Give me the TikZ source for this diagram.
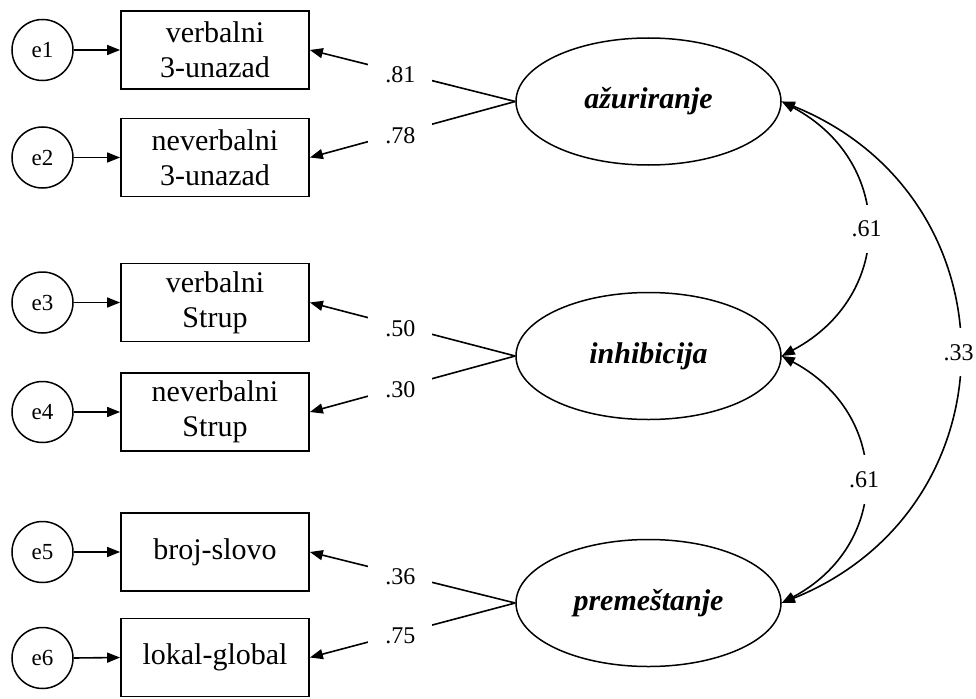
\documentclass[tikz,border=0pt]{standalone}
\usepackage{fontspec}
\setmainfont{Liberation Serif}
\usetikzlibrary{shapes.geometric,arrows.meta}
\begin{document}
\begin{tikzpicture}[x=1pt,y=1pt,
  errnode/.style={circle, draw, line width=1.5pt, minimum size=61pt, inner sep=0pt, font=\fontsize{23}{27}\selectfont},
  obsbox/.style={rectangle, draw, line width=1.8pt, minimum width=188pt, minimum height=78pt, inner sep=0pt, align=center, font=\fontsize{30}{35}\selectfont},
  latent/.style={ellipse, draw, line width=1.5pt, minimum width=265pt, minimum height=127pt, inner sep=0pt, font=\fontsize{30}{36}\selectfont\bfseries\itshape},
  loadarr/.style={line width=1.6pt, -{Triangle[length=13pt,width=10pt]}},
  covarr/.style={line width=1.6pt, {Triangle[length=13pt,width=10pt]}-{Triangle[length=13pt,width=10pt]}},
  lab/.style={fill=white, inner xsep=17pt, inner ysep=6pt, font=\fontsize{24}{28}\selectfont, yshift=-2.5pt},
  clab/.style={fill=white, inner xsep=3pt, inner ysep=16pt, font=\fontsize{24}{28}\selectfont}
]
\useasboundingbox (0,0) rectangle (976,-698);

% error terms
\node[errnode] (e1) at (42.5,-50)    {e1};
\node[errnode] (e2) at (42.5,-157.5) {e2};
\node[errnode] (e3) at (42.5,-302.5) {e3};
\node[errnode] (e4) at (42.5,-412)   {e4};
\node[errnode] (e5) at (42.5,-552)   {e5};
\node[errnode] (e6) at (42.5,-658)   {e6};

% observed variables
\node[obsbox] (b1) at (215,-50)    {verbalni\\3-unazad};
\node[obsbox] (b2) at (215,-157.5) {neverbalni\\3-unazad};
\node[obsbox] (b3) at (215,-302.5) {verbalni\\Strup};
\node[obsbox] (b4) at (215,-412)   {neverbalni\\Strup};
\node[obsbox] (b5) at (215,-552)   {broj-slovo};
\node[obsbox] (b6) at (215,-657.5) {lokal-global};

% latent variables
\node[latent] (L1) at (648.5,-101.5) {ažuriranje};
\node[latent] (L2) at (648.5,-356)   {inhibicija};
\node[latent] (L3) at (648.5,-603)   {premeštanje};

% error arrows
\foreach \i in {1,...,6}{
  \draw[loadarr] (e\i.east) -- (b\i.west);
}

% loadings
\draw[loadarr] (L1.west) -- node[lab, pos=0.56] {.81} (b1.east);
\draw[loadarr] (L1.west) -- node[lab, pos=0.56] {.78} (b2.east);
\draw[loadarr] (L2.west) -- node[lab, pos=0.56] {.50} (b3.east);
\draw[loadarr] (L2.west) -- node[lab, pos=0.56] {.30} (b4.east);
\draw[loadarr] (L3.west) -- node[lab, pos=0.56] {.36} (b5.east);
\draw[loadarr] (L3.west) -- node[lab, pos=0.56] {.75} (b6.east);

% covariances
\draw[covarr] (L1.east) to[out=-28,in=28,looseness=1.29] node[clab, midway] {.61} (L2.east);
\draw[covarr] (L2.east) to[out=-28,in=28,looseness=1.29] node[clab, midway] {.61} (L3.east);
\draw[covarr] (L1.east) to[out=-22,in=22,looseness=1.30] node[clab, midway] {.33} (L3.east);
\end{tikzpicture}
\end{document}
